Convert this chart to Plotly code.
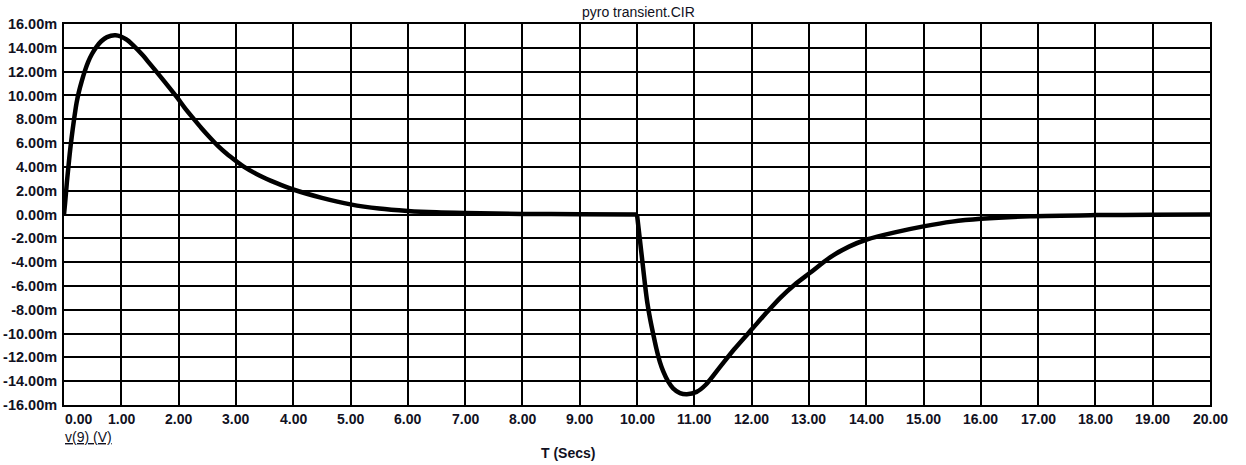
import plotly.graph_objects as go

# ---- data, time in s, voltage in mV ----
t_pos = [0.0, 0.02, 0.05, 0.075, 0.1, 0.134, 0.17, 0.22, 0.26, 0.31, 0.36, 0.42, 0.49,
         0.57, 0.65, 0.75, 0.9, 1.09, 1.2, 1.38, 1.5, 1.68, 1.97, 2.1, 2.26, 2.4,
         2.55, 2.7, 2.84, 3.0, 3.13, 3.42, 3.7, 4.0, 4.5, 5.0, 5.5, 6.0, 6.5, 7.0,
         8.0, 9.0, 10.0]
v_pos = [0.0, 1.0, 2.7, 3.9, 5.1, 6.5, 7.8, 9.4, 10.3, 11.2, 12.0, 12.8, 13.5,
         14.1, 14.55, 14.9, 15.05, 14.7, 14.25, 13.35, 12.65, 11.6, 9.85, 9.0, 8.05, 7.25,
         6.45, 5.7, 5.1, 4.5, 4.05, 3.25, 2.65, 2.1, 1.4, 0.85, 0.5, 0.3, 0.18, 0.12,
         0.05, 0.02, 0.0]

t_neg = [10.0, 10.05, 10.1, 10.14, 10.18, 10.23, 10.29, 10.34, 10.4, 10.46, 10.54,
         10.63, 10.75, 10.87, 11.04, 11.2, 11.45, 11.7, 12.03, 12.25, 12.5, 12.75,
         13.02, 13.37, 13.7, 14.01, 14.5, 15.0, 15.5, 16.0, 16.86, 18.0, 19.0, 20.0]
v_neg = [0.0, -2.1, -4.2, -5.9, -7.4, -8.8, -10.2, -11.3, -12.4, -13.2, -14.0,
         -14.6, -15.0, -15.1, -14.9, -14.3, -12.8, -11.3, -9.5, -8.3, -7.0, -5.9,
         -4.9, -3.6, -2.7, -2.1, -1.5, -1.0, -0.6, -0.36, -0.14, -0.05, -0.02, 0.0]

x_ticks = list(range(0, 21))
x_tick_labels = [f"{v:.2f}" for v in x_ticks]
y_ticks = list(range(-16, 17, 2))
y_tick_labels = [f"{v:.2f}m" for v in y_ticks]

title_text = "pyro transient.CIR"
x_title = "T (Secs)"
y_title = "v(9) (V)"

FONT = "Liberation Sans, Arial, sans-serif"
TXT = "#111122"

fig = go.Figure()
for tx, vy in ((t_pos, v_pos), (t_neg, v_neg)):
    fig.add_trace(go.Scatter(
        x=tx, y=vy, mode="lines",
        line=dict(color="black", width=4.5, shape="spline", smoothing=0.8),
        showlegend=False, hoverinfo="x+y"))

annotations = []
for v, lab in zip(x_ticks, x_tick_labels):
    annotations.append(dict(
        x=v, xref="x", y=0, yref="paper", yanchor="top",
        xanchor="left" if v == x_ticks[0] else "center",
        xshift=-1 if v == x_ticks[0] else 0,
        yshift=-4, text=lab, showarrow=False,
        font=dict(family=FONT, size=14, color=TXT, weight="bold")))
annotations.append(dict(
    x=0, xref="x", y=0, yref="paper", xanchor="left", yanchor="top",
    xshift=-1, yshift=-22, text=f"<u>{y_title}</u>", showarrow=False,
    font=dict(family=FONT, size=14, color=TXT)))
annotations.append(dict(
    x=0.4397, xref="paper", y=0, yref="paper", xanchor="center", yanchor="top",
    yshift=-38, text=f"<b>{x_title}</b>", showarrow=False,
    font=dict(family=FONT, size=14, color=TXT)))
annotations.append(dict(
    x=0.5, xref="paper", y=1, yref="paper", xanchor="center", yanchor="bottom",
    xshift=1, yshift=2, text=title_text, showarrow=False,
    font=dict(family=FONT, size=14, color=TXT)))

fig.update_layout(
    width=1246, height=465,
    margin=dict(l=64, r=36, t=24, b=60),
    paper_bgcolor="white", plot_bgcolor="white",
    annotations=annotations,
    xaxis=dict(range=[0, 20], tickvals=x_ticks, showticklabels=False,
               showgrid=True, gridcolor="black", gridwidth=2,
               showline=True, linecolor="black", linewidth=2, mirror=True,
               zeroline=False, ticks="", automargin=False),
    yaxis=dict(range=[-16, 16], tickvals=y_ticks, ticktext=y_tick_labels,
               showgrid=True, gridcolor="black", gridwidth=2,
               showline=True, linecolor="black", linewidth=2, mirror=True,
               zeroline=False, ticks="", ticklabelstandoff=2, automargin=False,
               tickfont=dict(family=FONT, size=14.5, color=TXT, weight="bold")),
)

fig.write_html("out.html", config={"displayModeBar": False},
               post_script="document.body.style.margin='0';document.body.style.padding='0';")
